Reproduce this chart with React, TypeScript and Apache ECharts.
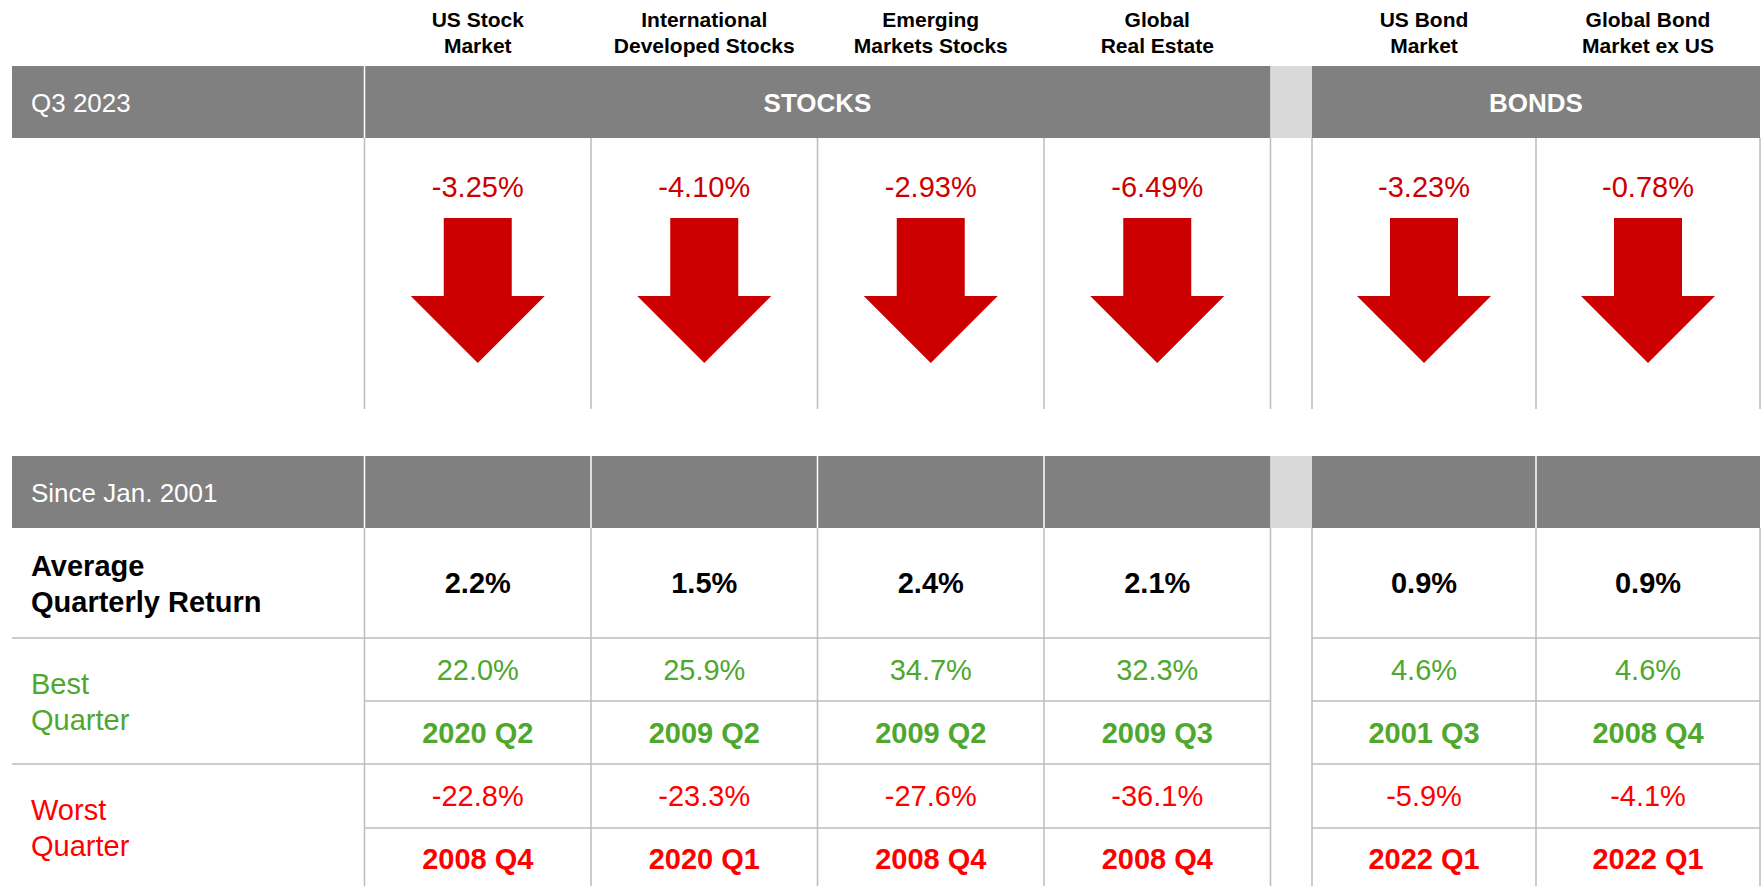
import React, { useEffect, useRef } from "react";
import * as echarts from "echarts";

// ---------- DATA ----------
const stockCategories = ["US Stock\nMarket", "International\nDeveloped Stocks", "Emerging\nMarkets Stocks", "Global\nReal Estate"];
const bondCategories = ["US Bond\nMarket", "Global Bond\nMarket ex US"];
const stockQuarterReturn = [-3.25, -4.1, -2.93, -6.49];
const bondQuarterReturn = [-3.23, -0.78];
const stockAverage = [2.2, 1.5, 2.4, 2.1];
const bondAverage = [0.9, 0.9];
const stockBest = [22.0, 25.9, 34.7, 32.3];
const bondBest = [4.6, 4.6];
const stockBestQuarter = ["2020 Q2", "2009 Q2", "2009 Q2", "2009 Q3"];
const bondBestQuarter = ["2001 Q3", "2008 Q4"];
const stockWorst = [-22.8, -23.3, -27.6, -36.1];
const bondWorst = [-5.9, -4.1];
const stockWorstQuarter = ["2008 Q4", "2020 Q1", "2008 Q4", "2008 Q4"];
const bondWorstQuarter = ["2022 Q1", "2022 Q1"];
const periodLabel = "Q3 2023";
const sinceLabel = "Since Jan. 2001";
const groupLabels = ["STOCKS", "BONDS"];
const rowLabels = ["Average\nQuarterly Return", "Best\nQuarter", "Worst\nQuarter"];

// ---------- LAYOUT ----------
const W = 1764;
const H = 886;
const FONT = "'Liberation Sans', Arial, Helvetica, sans-serif";
const GRAY = "#808080";
const LIGHT = "#D9D9D9";
const LINE = "#BDBDBD";
const GREEN = "#4EA72E";
const RED = "#FF0000";
const DARKRED = "#CC0000";

const TABLE_LEFT = 12;
const TABLE_RIGHT = 1760;
const STOCK_LEFT = 364.5;
const STOCK_RIGHT = 1270.5;
const BOND_LEFT = 1312;
const colBounds = [364.5, 591, 817.5, 1044, 1270.5, 1312, 1536, 1760];
const band1 = [66, 138];
const band2 = [456, 528];
const topLinesBottom = 409;

const Y = { ret: 187, arrow: 290.5, avg: 583, best: 670, bestQ: 733, worst: 796, worstQ: 859 };

const downArrow = "path://M33,0 L101,0 L101,78 L134,78 L67,145 L0,78 L33,78 Z";
const upArrow = "path://M67,0 L134,67 L101,67 L101,145 L33,145 L33,67 L0,67 Z";

const pct = (v: number, d: number) => v.toFixed(d) + "%";

function textSeries(g: number, labels: string[], y: number, color: string, bold: boolean, size = 29) {
  return {
    type: "scatter",
    xAxisIndex: g,
    yAxisIndex: g,
    symbol: "circle",
    symbolSize: 1,
    silent: true,
    itemStyle: { color: "rgba(0,0,0,0)", opacity: 1 },
    label: {
      show: true,
      position: "inside",
      formatter: (p: any) => p.name,
      color,
      opacity: 1,
      fontSize: size,
      fontWeight: bold ? "bold" : "normal",
      fontFamily: FONT,
    },
    data: labels.map((t, i) => ({ name: t, value: [i, y] })),
  };
}

function arrowSeries(g: number, values: number[]) {
  return {
    type: "scatter",
    xAxisIndex: g,
    yAxisIndex: g,
    silent: true,
    symbolSize: [134, 145],
    itemStyle: { color: DARKRED, opacity: 1 },
    data: values.map((v, i) => ({ value: [i, Y.arrow], symbol: v < 0 ? downArrow : upArrow })),
  };
}

function groupSeries(g: number, ret: number[], avg: number[], best: number[], bestQ: string[], worst: number[], worstQ: string[]) {
  return [
    arrowSeries(g, ret),
    textSeries(g, ret.map((v) => pct(v, 2)), Y.ret, DARKRED, false),
    textSeries(g, avg.map((v) => pct(v, 1)), Y.avg, "#000000", true),
    textSeries(g, best.map((v) => pct(v, 1)), Y.best, GREEN, false),
    textSeries(g, bestQ, Y.bestQ, GREEN, true),
    textSeries(g, worst.map((v) => pct(v, 1)), Y.worst, RED, false),
    textSeries(g, worstQ, Y.worstQ, RED, true),
  ];
}

function line(x1: number, y1: number, x2: number, y2: number, stroke = LINE, w = 1.5) {
  return { type: "line", silent: true, shape: { x1, y1, x2, y2 }, style: { stroke, lineWidth: w } };
}
function rect(x: number, y: number, w: number, h: number, fill: string) {
  return { type: "rect", silent: true, shape: { x, y, width: w, height: h }, style: { fill } };
}
function text(x: number, y: number, t: string, fill: string, size: number, bold: boolean, align = "left", lh = 36) {
  return {
    type: "text",
    silent: true,
    x,
    y,
    style: {
      text: t,
      fill,
      fontSize: size,
      fontWeight: bold ? "bold" : "normal",
      fontFamily: FONT,
      align,
      textAlign: align,
      verticalAlign: "middle",
      textVerticalAlign: "middle",
      lineHeight: lh,
    },
  };
}

function buildGraphics() {
  const els: any[] = [];
  for (const [y0, y1] of [band1, band2]) {
    els.push(rect(TABLE_LEFT, y0, STOCK_RIGHT - TABLE_LEFT, y1 - y0, GRAY));
    els.push(rect(STOCK_RIGHT, y0, BOND_LEFT - STOCK_RIGHT, y1 - y0, LIGHT));
    els.push(rect(BOND_LEFT, y0, TABLE_RIGHT - BOND_LEFT, y1 - y0, GRAY));
  }
  // white separators in bands
  els.push(line(STOCK_LEFT, band1[0], STOCK_LEFT, band1[1], "#FFFFFF", 1.5));
  [364.5, 591, 817.5, 1044, 1536].forEach((x) => els.push(line(x, band2[0], x, band2[1], "#FFFFFF", 1.5)));
  // vertical grid lines
  colBounds.forEach((x) => {
    els.push(line(x, band1[1], x, topLinesBottom));
    els.push(line(x, band2[1], x, H));
  });
  // horizontal lines
  [638, 764].forEach((y) => {
    els.push(line(TABLE_LEFT, y, STOCK_RIGHT, y));
    els.push(line(BOND_LEFT, y, TABLE_RIGHT, y));
  });
  [701, 828].forEach((y) => {
    els.push(line(STOCK_LEFT, y, STOCK_RIGHT, y));
    els.push(line(BOND_LEFT, y, TABLE_RIGHT, y));
  });
  // band texts
  els.push(text(31, 103, periodLabel, "#FFFFFF", 26, false));
  els.push(text((STOCK_LEFT + STOCK_RIGHT) / 2, 103, groupLabels[0], "#FFFFFF", 26, true, "center"));
  els.push(text((BOND_LEFT + TABLE_RIGHT) / 2, 103, groupLabels[1], "#FFFFFF", 26, true, "center"));
  els.push(text(31, 493, sinceLabel, "#FFFFFF", 26, false));
  // row labels
  els.push(text(31, 584, rowLabels[0], "#000000", 29, true));
  els.push(text(31, 702, rowLabels[1], GREEN, 29, false));
  els.push(text(31, 828, rowLabels[2], RED, 29, false));
  return els;
}

function xAxisFor(g: number, cats: string[]) {
  return {
    gridIndex: g,
    type: "category",
    data: cats,
    position: "top",
    axisLine: { show: false },
    axisTick: { show: false },
    splitLine: { show: false },
    axisLabel: {
      interval: 0,
      margin: 8,
      fontSize: 21,
      fontWeight: "bold",
      color: "#000000",
      lineHeight: 26,
      fontFamily: FONT,
    },
  };
}
function yAxisFor(g: number) {
  return { gridIndex: g, type: "value", min: 66, max: 886, inverse: true, show: false };
}

export default function App() {
  const ref = useRef<HTMLDivElement>(null);
  useEffect(() => {
    if (!ref.current) return;
    const chart = echarts.init(ref.current, null, { renderer: "svg" });
    chart.setOption({
      animation: false,
      backgroundColor: "#FFFFFF",
      grid: [
        { left: STOCK_LEFT, top: 66, width: STOCK_RIGHT - STOCK_LEFT, height: H - 66 },
        { left: BOND_LEFT, top: 66, width: TABLE_RIGHT - BOND_LEFT, height: H - 66 },
      ],
      xAxis: [xAxisFor(0, stockCategories), xAxisFor(1, bondCategories)],
      yAxis: [yAxisFor(0), yAxisFor(1)],
      graphic: { elements: buildGraphics() },
      series: [
        ...groupSeries(0, stockQuarterReturn, stockAverage, stockBest, stockBestQuarter, stockWorst, stockWorstQuarter),
        ...groupSeries(1, bondQuarterReturn, bondAverage, bondBest, bondBestQuarter, bondWorst, bondWorstQuarter),
      ],
    });
    return () => chart.dispose();
  }, []);
  return (
    <div
      ref={ref}
      style={{ position: "fixed", left: 0, top: 0, width: W, height: H, background: "#FFFFFF" }}
    />
  );
}
